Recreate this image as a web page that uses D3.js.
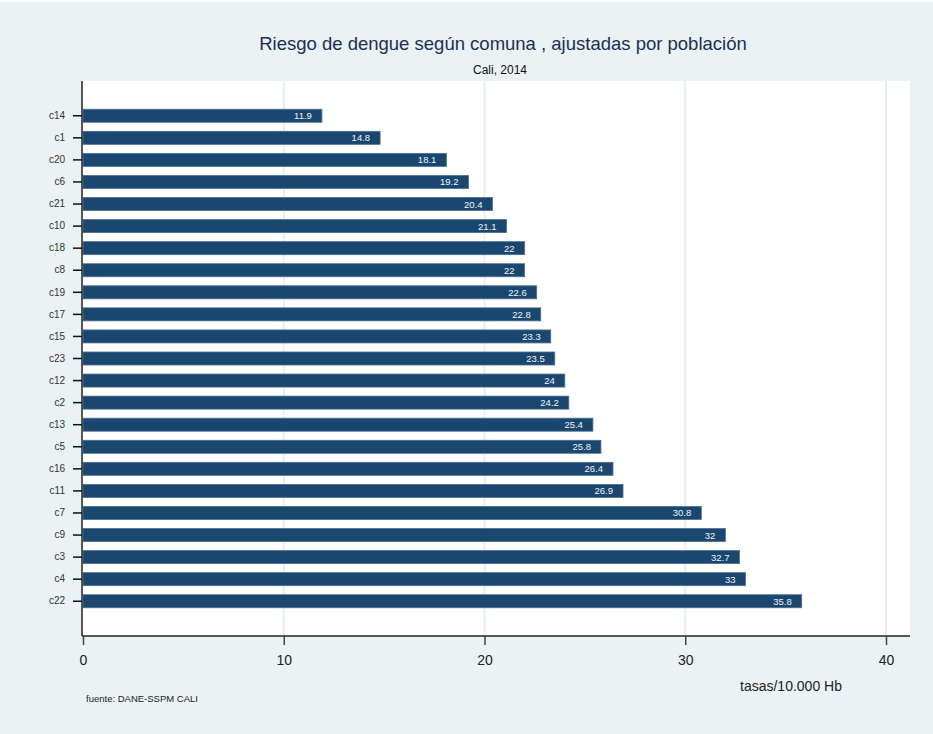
<!DOCTYPE html>
<html>
<head>
<meta charset="utf-8">
<script src="https://cdn.jsdelivr.net/npm/d3@7"></script>
<style>
  body { margin: 0; background: #ffffff; }
  svg text { font-family: "Liberation Sans", Arial, sans-serif; }
</style>
</head>
<body>
<div id="viz"></div>
<script>
// Data
const comunas = ["c14","c1","c20","c6","c21","c10","c18","c8","c19","c17","c15","c23",
                 "c12","c2","c13","c5","c16","c11","c7","c9","c3","c4","c22"];
const tasas = [11.9,14.8,18.1,19.2,20.4,21.1,22,22,22.6,22.8,23.3,23.5,
               24,24.2,25.4,25.8,26.4,26.9,30.8,32,32.7,33,35.8];
const xTicks = [0,10,20,30,40];

// Chart parameters
const chartTitle = "Riesgo de dengue según comuna , ajustadas por población";
const chartSubtitle = "Cali, 2014";
const xLabel = "tasas/10.000 Hb";
const note = "fuente: DANE-SSPM CALI";

// Geometry
const width = 933;
const height = 734;
const plot = {left: 82, right: 910, top: 81, bottom: 636};

const svg = d3.select("#viz")
  .append("svg")
  .attr("width", width)
  .attr("height", height);

// Background
svg.append("rect")
  .attr("x", 0).attr("y", 2)
  .attr("width", width).attr("height", height - 2)
  .attr("fill", "#eaf2f3");

svg.append("rect")
  .attr("x", plot.left).attr("y", plot.top)
  .attr("width", plot.right - plot.left).attr("height", plot.bottom - plot.top)
  .attr("fill", "#ffffff");

// Scales
const xScale = d3.scaleLinear().domain([0, 40]).range([83, 886]);
const yScale = d3.scaleBand()
  .domain(comunas)
  .range([plot.top, plot.bottom])
  .paddingInner(0.41)
  .paddingOuter(1.28);

// Grid lines
svg.append("g")
  .selectAll("line")
  .data(xTicks.filter(d => d > 0))
  .enter().append("line")
  .attr("x1", d => xScale(d)).attr("x2", d => xScale(d))
  .attr("y1", plot.top).attr("y2", plot.bottom)
  .attr("stroke", "#e6eff2")
  .attr("stroke-width", 2);

// Bars
svg.append("g")
  .selectAll("rect")
  .data(comunas)
  .enter().append("rect")
  .attr("x", xScale(0))
  .attr("y", d => yScale(d))
  .attr("width", (d, i) => xScale(tasas[i]) - xScale(0))
  .attr("height", yScale.bandwidth())
  .attr("fill", "#1a476f")
  .attr("stroke", "#4f6f8d")
  .attr("stroke-width", 0.8);

// Bar labels
svg.append("g")
  .selectAll("text")
  .data(comunas)
  .enter().append("text")
  .attr("x", (d, i) => xScale(tasas[i]) - 10)
  .attr("y", d => yScale(d) + yScale.bandwidth() / 2 + 3.5)
  .attr("text-anchor", "end")
  .attr("font-size", "9.5px")
  .attr("fill", "#f2f5f8")
  .text((d, i) => tasas[i]);

// Y axis
const yAxisG = svg.append("g")
  .attr("transform", "translate(" + plot.left + ",0)")
  .call(d3.axisLeft(yScale).tickSize(9).tickPadding(8));
yAxisG.select(".domain")
  .attr("d", "M0," + plot.top + "V" + plot.bottom)
  .attr("stroke", "#222")
  .attr("stroke-width", 1.5);
yAxisG.selectAll(".tick line").attr("stroke", "#111").attr("stroke-width", 1.5);
yAxisG.selectAll(".tick text")
  .attr("font-size", "10px")
  .attr("fill", "#333")
  .attr("font-family", "Liberation Sans, Arial, sans-serif");

// X axis
const xAxisG = svg.append("g")
  .attr("transform", "translate(0," + plot.bottom + ")")
  .call(d3.axisBottom(xScale).tickValues(xTicks).tickSize(9).tickPadding(10));
xAxisG.select(".domain")
  .attr("d", "M" + plot.left + ",0H" + plot.right)
  .attr("stroke", "#222")
  .attr("stroke-width", 1.5);
xAxisG.selectAll(".tick line").attr("stroke", "#444").attr("stroke-width", 1.5);
xAxisG.selectAll(".tick text")
  .attr("font-size", "14px")
  .attr("fill", "#222")
  .attr("font-family", "Liberation Sans, Arial, sans-serif");

// X label
svg.append("text")
  .attr("x", 791).attr("y", 691)
  .attr("text-anchor", "middle")
  .attr("font-size", "14px")
  .attr("fill", "#222")
  .text(xLabel);

// Note
svg.append("text")
  .attr("x", 86).attr("y", 702)
  .attr("font-size", "9.5px")
  .attr("fill", "#222")
  .text(note);

// Titles
svg.append("text")
  .attr("x", 503).attr("y", 50)
  .attr("text-anchor", "middle")
  .attr("font-size", "18.5px")
  .attr("fill", "#1c2f55")
  .text(chartTitle);

svg.append("text")
  .attr("x", 500).attr("y", 74)
  .attr("text-anchor", "middle")
  .attr("font-size", "12px")
  .attr("fill", "#111")
  .text(chartSubtitle);
</script>
</body>
</html>
